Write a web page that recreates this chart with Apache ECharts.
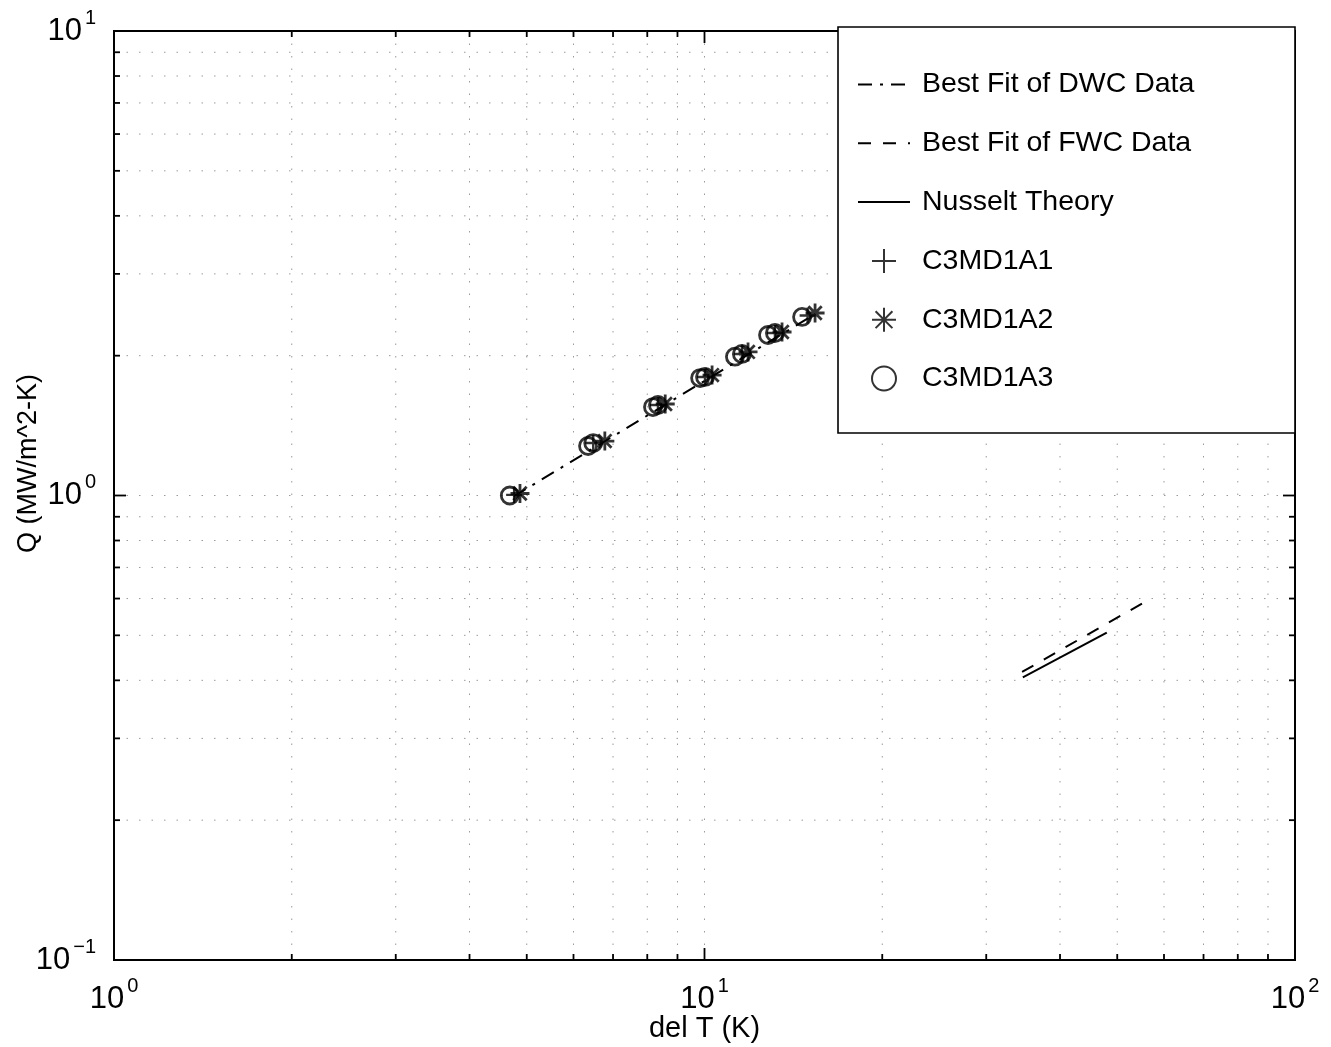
<!DOCTYPE html>
<html>
<head>
<meta charset="utf-8">
<title>Q vs del T</title>
<script src="https://cdn.jsdelivr.net/npm/echarts@6/dist/echarts.min.js"></script>
<style>
  html, body { margin: 0; padding: 0; background: #fff; }
  #chart { width: 1331px; height: 1047px; }
</style>
</head>
<body>
<div id="chart"></div>
<script>
// Measured heat flux vs. wall subcooling, three runs of the C3MD1 series
const runA1 = [[4.76, 1.003], [6.48, 1.297], [8.34, 1.566], [10.02, 1.80], [11.57, 2.017], [13.16, 2.238], [14.95, 2.44]];
const runA2 = [[4.87, 1.01], [6.78, 1.31], [8.58, 1.574], [10.30, 1.817], [11.85, 2.037], [13.53, 2.249], [15.39, 2.471]];
const runA3 = [[4.68, 1.00], [6.35, 1.278], [6.48, 1.297], [8.18, 1.55], [8.34, 1.566], [9.83, 1.79], [10.02, 1.80],
               [11.26, 1.99], [11.57, 2.017], [12.81, 2.216], [13.16, 2.238], [14.63, 2.423]];

// Fitted curves and theory (end points of the straight log-log segments)
const fitDWC = [[4.75, 0.995], [15.4, 2.46]];
const fitFWC = [[34.5, 0.417], [55.3, 0.587]];
const nusselt = [[34.6, 0.406], [48.0, 0.5066]];

// Axis ranges and tick values
const xRange = [1, 100];
const yRange = [0.1, 10];
const xTicks = [1, 2, 3, 4, 5, 6, 7, 8, 9, 10, 20, 30, 40, 50, 60, 70, 80, 90, 100];
const yTicks = [0.1, 0.2, 0.3, 0.4, 0.5, 0.6, 0.7, 0.8, 0.9, 1, 2, 3, 4, 5, 6, 7, 8, 9, 10];

const FONT = 'Liberation Sans, Arial, Helvetica, sans-serif';

const PLUS = 'path://M0,5 L10,5 M5,0 L5,10';
const STAR = 'path://M0,5 L10,5 M5,0 L5,10 M1.5,1.5 L8.5,8.5 M1.5,8.5 L8.5,1.5';

function isMajor(v) {
  const e = Math.log10(v);
  return Math.abs(e - Math.round(e)) < 1e-9;
}

function powLabel(v) {
  const e = Math.round(Math.log10(v));
  return '{b|10}{s|' + (e < 0 ? '\u2212' + (-e) : e) + '}';
}

const labelRich = {
  b: { fontSize: 31, fontFamily: FONT, color: '#000', lineHeight: 36 },
  s: { fontSize: 20, fontFamily: FONT, color: '#000', padding: [0, 0, 26, 3] }
};

// Dotted grid and inward ticks on all four sides
function renderFrame(params, api) {
  const cs = params.coordSys;
  const left = cs.x, right = cs.x + cs.width, top = cs.y, bottom = cs.y + cs.height;
  const children = [];
  const gridStyle = { stroke: '#9a9a9a', lineWidth: 1, lineDash: [1.5, 11] };
  const tickStyle = { stroke: '#000', lineWidth: 1.8 };
  xTicks.forEach(function (v) {
    const px = api.coord([v, yRange[0]])[0];
    const len = isMajor(v) ? 12 : 6;
    if (v !== xRange[0] && v !== xRange[1]) {
      children.push({ type: 'line', shape: { x1: px, y1: top, x2: px, y2: bottom }, style: gridStyle, silent: true });
    }
    children.push({ type: 'line', shape: { x1: px, y1: bottom, x2: px, y2: bottom - len }, style: tickStyle, silent: true });
    children.push({ type: 'line', shape: { x1: px, y1: top, x2: px, y2: top + len }, style: tickStyle, silent: true });
  });
  yTicks.forEach(function (v) {
    const py = api.coord([xRange[0], v])[1];
    const len = isMajor(v) ? 12 : 6;
    if (v !== yRange[0] && v !== yRange[1]) {
      children.push({ type: 'line', shape: { x1: left, y1: py, x2: right, y2: py }, style: gridStyle, silent: true });
    }
    children.push({ type: 'line', shape: { x1: left, y1: py, x2: left + len, y2: py }, style: tickStyle, silent: true });
    children.push({ type: 'line', shape: { x1: right, y1: py, x2: right - len, y2: py }, style: tickStyle, silent: true });
  });
  return { type: 'group', children: children };
}

const chart = echarts.init(document.getElementById('chart'), null, { renderer: 'canvas' });

const noMarker = { color: 'transparent', borderColor: 'transparent', borderWidth: 0 };

chart.setOption({
  animation: false,
  backgroundColor: '#fff',
  textStyle: { fontFamily: FONT, color: '#000' },
  grid: {
    left: 114, right: 36, top: 31, bottom: 87,
    outerBoundsMode: 'none', containLabel: false,
    show: true, borderColor: '#000', borderWidth: 2, backgroundColor: 'transparent'
  },
  xAxis: {
    type: 'log', logBase: 10, min: xRange[0], max: xRange[1], interval: 1,
    axisLine: { show: false }, axisTick: { show: false }, splitLine: { show: false },
    axisLabel: { formatter: powLabel, rich: labelRich, margin: 16, color: '#000' },
    name: 'del T (K)', nameLocation: 'middle', nameGap: 54, nameMoveOverlap: false,
    nameTextStyle: { fontSize: 29, fontFamily: FONT, color: '#000' }
  },
  yAxis: {
    type: 'log', logBase: 10, min: yRange[0], max: yRange[1], interval: 1,
    axisLine: { show: false }, axisTick: { show: false }, splitLine: { show: false },
    axisLabel: { formatter: powLabel, rich: labelRich, margin: 18, color: '#000' },
    name: 'Q (MW/m^2-K)', nameLocation: 'middle', nameGap: 72, nameRotate: 90, nameMoveOverlap: false,
    nameTextStyle: { fontSize: 27, fontFamily: FONT, color: '#000', padding: [0, 0, 0, 64] }
  },
  legend: {
    orient: 'vertical', left: 852, top: 65, z: 20,
    itemWidth: 52, itemHeight: 24, itemGap: 29.8,
    textStyle: { fontSize: 28.5, fontFamily: FONT, color: '#000', padding: [0, 0, 0, 7] },
    data: ['Best Fit of DWC Data', 'Best Fit of FWC Data', 'Nusselt Theory', 'C3MD1A1', 'C3MD1A2', 'C3MD1A3']
  },
  graphic: [{
    type: 'rect', z: 10, silent: true,
    shape: { x: 838, y: 27, width: 457, height: 406 },
    style: { fill: '#fff', stroke: '#000', lineWidth: 1.6 }
  }],
  series: [
    {
      type: 'custom', name: 'frame', renderItem: renderFrame, data: [[1, 1]],
      silent: true, z: 1, clip: false
    },
    {
      name: 'Best Fit of DWC Data', type: 'line', data: fitDWC, symbol: 'none', z: 3,
      itemStyle: noMarker,
      lineStyle: { color: '#000', width: 2, type: [14, 8, 3, 8] }
    },
    {
      name: 'Best Fit of FWC Data', type: 'line', data: fitFWC, symbol: 'none', z: 3,
      itemStyle: noMarker,
      lineStyle: { color: '#000', width: 2, type: [13, 12] }
    },
    {
      name: 'Nusselt Theory', type: 'line', data: nusselt, symbol: 'none', z: 3,
      itemStyle: noMarker,
      lineStyle: { color: '#000', width: 2, type: 'solid' }
    },
    {
      name: 'C3MD1A1', type: 'scatter', data: runA1, symbol: PLUS, symbolSize: 16, z: 4,
      itemStyle: { color: 'transparent', borderColor: '#000', borderWidth: 2.4 }
    },
    {
      name: 'C3MD1A2', type: 'scatter', data: runA2, symbol: STAR, symbolSize: 19, z: 4,
      itemStyle: { color: 'transparent', borderColor: '#000', borderWidth: 2.8 }
    },
    {
      name: 'C3MD1A3', type: 'scatter', data: runA3, symbol: 'circle', symbolSize: 17, z: 4,
      itemStyle: { color: 'transparent', borderColor: '#000', borderWidth: 2.8 }
    }
  ]
});
</script>
</body>
</html>
